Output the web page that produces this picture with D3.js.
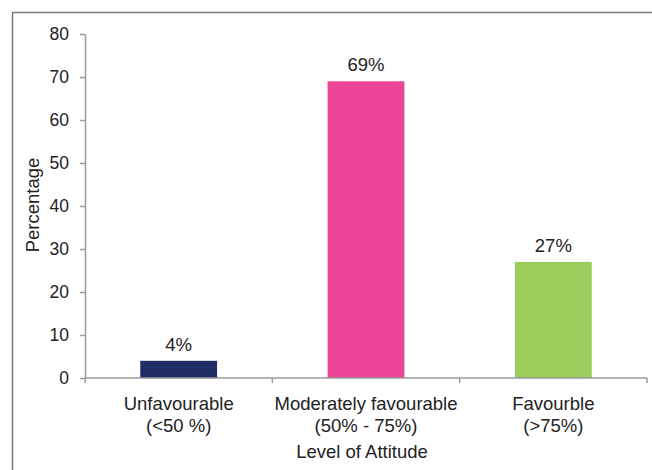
<!DOCTYPE html>
<html>
<head>
<meta charset="utf-8">
<script src="https://cdn.jsdelivr.net/npm/d3@7"></script>
<style>
  body { margin: 0; background: #fff; }
  text { font-family: Arial, "Liberation Sans", sans-serif; fill: #222; }
</style>
</head>
<body>
<div id="chart"></div>
<script>
const categories = ['Unfavourable', 'Moderately favourable', 'Favourble'];
const subLabels = ['(<50 %)', '(50% - 75%)', '(>75%)'];
const values = [4, 69, 27];
const valueLabels = ['4%', '69%', '27%'];
const colors = ['#1f2c66', '#ec4598', '#9ccc5a'];
const yTicks = [0, 10, 20, 30, 40, 50, 60, 70, 80];

const width = 652, height = 470;
const margin = { left: 85, right: 5, top: 34, bottom: 92 };
const fontFamily = 'Arial, "Liberation Sans", sans-serif';

const svg = d3.select('#chart').append('svg')
  .attr('width', width)
  .attr('height', height);

// outer frame
svg.append('path')
  .attr('d', `M12.5,${height} V12.5 H${width}`)
  .attr('fill', 'none')
  .attr('stroke', '#7a7a7a')
  .attr('stroke-width', 1.5);

const x = d3.scaleBand()
  .domain(categories)
  .range([margin.left, width - margin.right])
  .paddingInner(0.59)
  .paddingOuter(0.295);

const y = d3.scaleLinear()
  .domain([0, 80])
  .range([height - margin.bottom, margin.top]);

// bars
svg.selectAll('rect.bar')
  .data(values)
  .enter()
  .append('rect')
  .attr('class', 'bar')
  .attr('x', (d, i) => x(categories[i]))
  .attr('width', x.bandwidth())
  .attr('y', d => y(d))
  .attr('height', d => y(0) - y(d))
  .attr('fill', (d, i) => colors[i]);

// value labels
svg.selectAll('text.val')
  .data(values)
  .enter()
  .append('text')
  .attr('class', 'val')
  .attr('x', (d, i) => x(categories[i]) + x.bandwidth() / 2)
  .attr('y', d => y(d) - 10)
  .attr('text-anchor', 'middle')
  .attr('font-size', 18.5)
  .text((d, i) => valueLabels[i]);

// y axis
const yAxis = svg.append('g')
  .attr('transform', `translate(${margin.left},0)`)
  .call(d3.axisLeft(y).tickValues(yTicks).tickSize(5).tickPadding(11).tickSizeOuter(0));
yAxis.selectAll('text').attr('font-size', 17.5).attr('font-family', fontFamily).attr('fill', '#222');
yAxis.selectAll('line, path').attr('stroke', '#9a9a9a').attr('stroke-width', 1.5);

// x axis: ticks at category boundaries
const step = x.step();
const bounds = d3.range(categories.length + 1).map(i => margin.left + i * step);
const xAxis = svg.append('g');
xAxis.append('line')
  .attr('x1', margin.left).attr('x2', width - margin.right)
  .attr('y1', y(0)).attr('y2', y(0))
  .attr('stroke', '#9a9a9a').attr('stroke-width', 1.5);
xAxis.selectAll('line.tick')
  .data(bounds)
  .enter()
  .append('line')
  .attr('class', 'tick')
  .attr('x1', d => d).attr('x2', d => d)
  .attr('y1', y(0)).attr('y2', y(0) + 5)
  .attr('stroke', '#9a9a9a').attr('stroke-width', 1.5);

const catLabels = xAxis.selectAll('text.cat')
  .data(categories)
  .enter()
  .append('text')
  .attr('class', 'cat')
  .attr('text-anchor', 'middle')
  .attr('font-size', 18.5)
  .attr('x', d => x(d) + x.bandwidth() / 2)
  .attr('y', y(0) + 32);
catLabels.append('tspan').text(d => d);
catLabels.append('tspan')
  .attr('x', d => x(d) + x.bandwidth() / 2)
  .attr('dy', 22)
  .text((d, i) => subLabels[i]);

// axis titles
svg.append('text')
  .attr('x', 362)
  .attr('y', 458)
  .attr('text-anchor', 'middle')
  .attr('font-size', 18.5)
  .text('Level of Attitude');

svg.append('text')
  .attr('transform', `translate(39,205) rotate(-90)`)
  .attr('text-anchor', 'middle')
  .attr('font-size', 18.5)
  .text('Percentage');
</script>
</body>
</html>
